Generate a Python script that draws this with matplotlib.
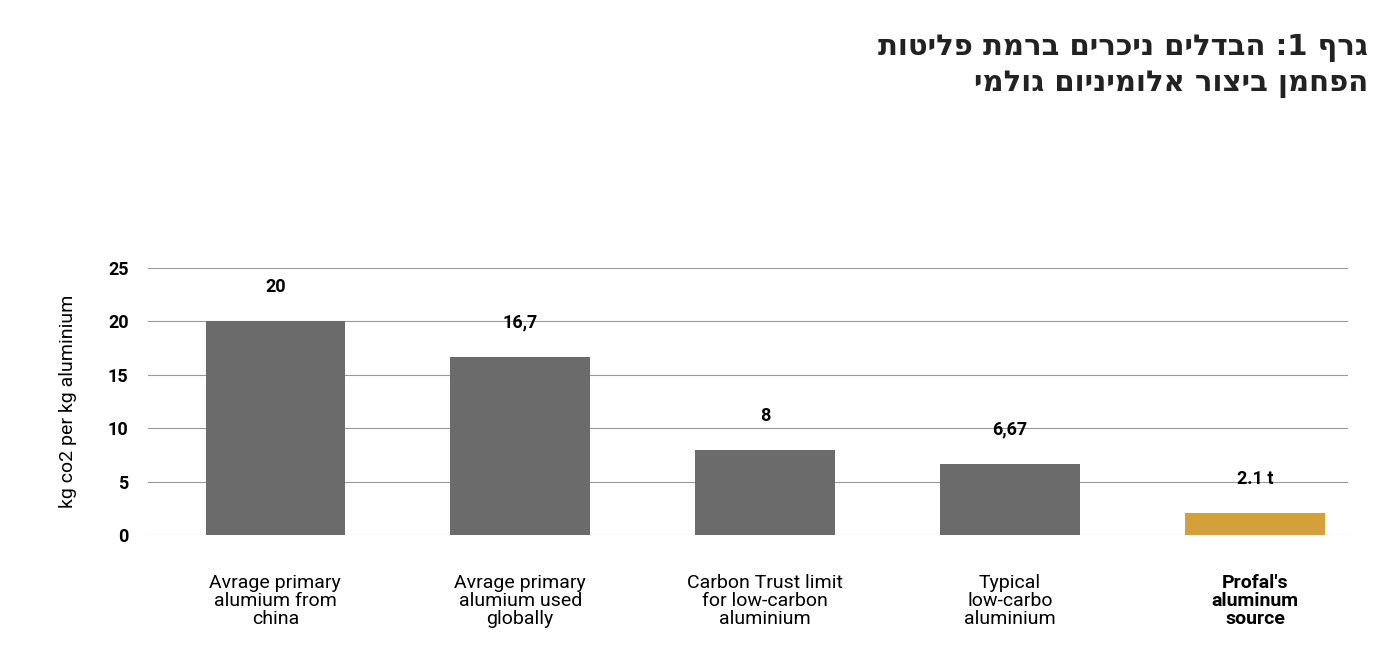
import matplotlib
matplotlib.use("Agg")
import matplotlib.pyplot as plt

categories = ["Avrage primary\nalumium from\nchina", "Avrage primary\nalumium used\nglobally",
              "Carbon Trust limit\nfor low-carbon\naluminium", "Typical\nlow-carbo\naluminium",
              "Profal's\naluminum\nsource"]
values = [20, 16.7, 8, 6.67, 2.1]
value_labels = ["20", "16,7", "8", "6,67", "2.1 t"]
colors = ["#6b6b6b"] * 4 + ["#d4a03c"]
yticks = [0, 5, 10, 15, 20, 25]
title_lines = ["גרף 1: הבדלים ניכרים ברמת פליטות", "הפחמן ביצור אלומיניום גולמי"]

plt.rcParams['font.family'] = ['Roboto', 'DejaVu Sans']
fig = plt.figure(figsize=(13.96, 6.51), dpi=100)
ax = fig.add_axes([148/1396, 1-535/651, 1200/1396, 267/651])
x = list(range(len(categories)))
ax.bar(x, values, width=0.57, color=colors, zorder=3)
for xi, v, lab in zip(x, values, value_labels):
    ax.annotate(lab, (xi, v), xytext=(0, 18), textcoords="offset points",
                ha="center", va="bottom", fontsize=13, fontweight="bold")
ax.set_xlim(-0.52, 4.38)
ax.set_ylim(0, 25)
ax.set_yticks(yticks)
ax.set_yticklabels([str(t) for t in yticks], fontsize=13, fontweight="bold")
ax.yaxis.grid(True, color="#999999", linewidth=0.8, zorder=0)
ax.set_xticks(x)
ax.set_xticklabels(categories, fontsize=14, linespacing=1.0)
for i, t in enumerate(ax.get_xticklabels()):
    if i == 4:
        t.set_fontweight("bold")
ax.tick_params(axis="both", length=0)
ax.tick_params(axis="x", pad=28)
ax.tick_params(axis="y", pad=14)
for s in ax.spines.values():
    s.set_visible(False)
ax.set_ylabel("kg co2 per kg aluminium", fontsize=14, labelpad=22)
for i, line in enumerate(title_lines):
    fig.text(1368/1396, 1-(48+36*i)/651, line[::-1], ha="right", va="center",
             fontsize=21, fontweight="bold", family=["DejaVu Sans"], color="#222222")
fig.savefig("out.png", dpi=100)
